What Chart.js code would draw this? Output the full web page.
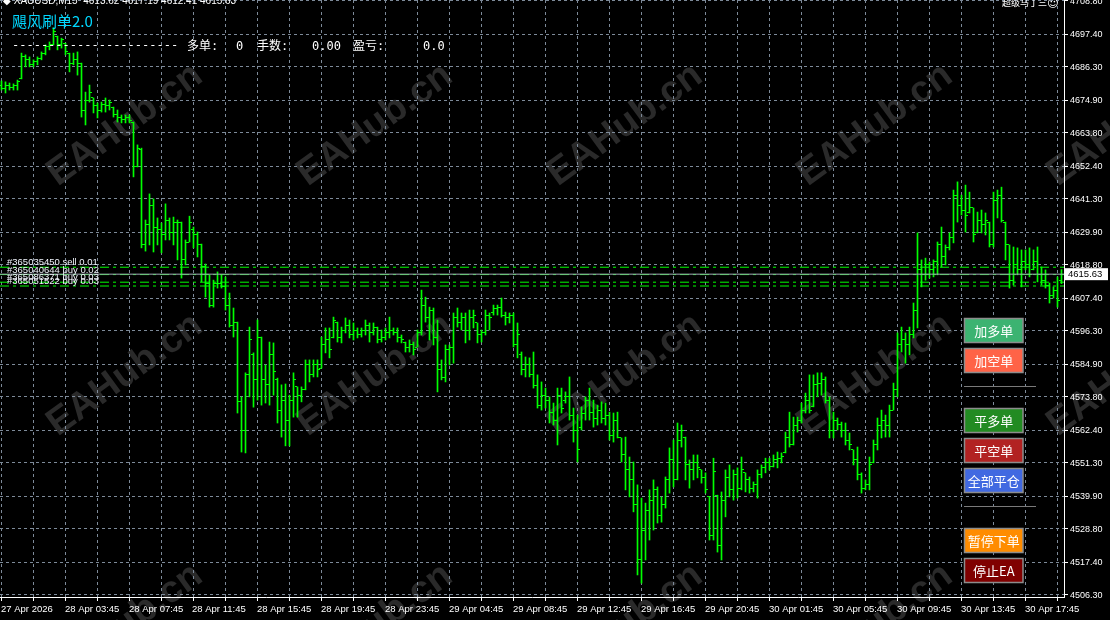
<!DOCTYPE html>
<html>
<head>
<meta charset="utf-8">
<script src="https://cdn.jsdelivr.net/npm/chart.js@4.4.1/dist/chart.umd.min.js"></script>
<style>
  html, body { margin: 0; padding: 0; background: #000; }
  #wrap { width: 1110px; height: 620px; }
</style>
</head>
<body>
<div id="wrap"><canvas id="chart" width="1110" height="620"></canvas></div>
<script>
// XAUUSD M15, one bar every 15 minutes
const timeLabels = ["27 Apr 2026", "28 Apr 03:45", "28 Apr 07:45", "28 Apr 11:45", "28 Apr 15:45",
  "28 Apr 19:45", "28 Apr 23:45", "29 Apr 04:45", "29 Apr 08:45", "29 Apr 12:45", "29 Apr 16:45",
  "29 Apr 20:45", "30 Apr 01:45", "30 Apr 05:45", "30 Apr 09:45", "30 Apr 13:45", "30 Apr 17:45"];

const priceTicks = [4708.80, 4697.40, 4686.30, 4674.90, 4663.80, 4652.40, 4641.30, 4629.90, 4618.80,
  4607.40, 4596.30, 4584.90, 4573.80, 4562.40, 4551.30, 4539.90, 4528.80, 4517.40, 4506.30];

const barOpen = [
  4680.1, 4679.1, 4679.8, 4679.4, 4679.8, 4682.5, 4689.7, 4688.7, 4687.0, 4688.0,
  4689.0, 4690.7, 4693.1, 4694.1, 4696.5, 4694.1, 4694.4, 4690.7, 4687.6, 4688.7,
  4687.3, 4671.6, 4675.0, 4675.7, 4673.3, 4671.6, 4673.6, 4673.0, 4672.6, 4670.2,
  4668.9, 4668.2, 4669.2, 4667.5, 4652.2, 4658.0, 4625.6, 4632.4, 4639.2, 4631.7,
  4630.7, 4629.0, 4634.1, 4629.7, 4633.4, 4633.1, 4620.5, 4626.6, 4630.7, 4629.3,
  4625.6, 4618.4, 4612.3, 4604.8, 4612.3, 4612.6, 4611.6, 4605.1, 4598.3, 4599.3,
  4572.1, 4562.5, 4581.3, 4588.1, 4579.6, 4594.2, 4579.6, 4577.9, 4588.1, 4579.6,
  4569.3, 4572.7, 4565.9, 4572.7, 4577.2, 4574.4, 4576.2, 4584.7, 4581.3, 4584.7,
  4583.6, 4591.5, 4593.2, 4594.2, 4599.3, 4593.9, 4596.6, 4598.3, 4594.9, 4596.6,
  4594.9, 4596.3, 4598.3, 4595.6, 4597.3, 4593.2, 4594.2, 4595.9, 4596.6, 4595.9,
  4593.9, 4592.5, 4590.5, 4591.5, 4590.8, 4595.6, 4605.1, 4600.7, 4603.4, 4593.9,
  4583.0, 4580.3, 4589.8, 4590.8, 4600.7, 4599.3, 4600.7, 4596.6, 4600.7, 4599.0,
  4594.9, 4595.6, 4601.7, 4602.4, 4603.8, 4604.4, 4601.7, 4600.7, 4601.4, 4591.5,
  4588.1, 4583.0, 4584.7, 4581.3, 4577.6, 4571.0, 4574.4, 4572.7, 4568.6, 4565.9,
  4574.4, 4572.7, 4574.1, 4567.6, 4562.5, 4563.2, 4568.3, 4572.7, 4568.6, 4566.6,
  4569.3, 4566.6, 4567.6, 4560.8, 4565.9, 4559.8, 4554.0, 4548.9, 4545.5, 4537.0,
  4518.2, 4528.4, 4535.2, 4538.6, 4542.1, 4533.5, 4537.0, 4545.5, 4552.3, 4545.5,
  4559.1, 4560.1, 4550.6, 4548.9, 4551.6, 4548.9, 4546.2, 4539.7, 4526.7, 4540.3,
  4523.3, 4538.6, 4546.2, 4542.1, 4547.2, 4542.7, 4547.9, 4545.5, 4542.7, 4543.8,
  4547.2, 4549.6, 4551.6, 4550.2, 4552.3, 4552.9, 4554.7, 4559.8, 4557.4, 4564.2,
  4565.9, 4569.3, 4572.7, 4570.4, 4577.9, 4578.5, 4579.6, 4572.7, 4562.5, 4565.9,
  4564.5, 4562.5, 4559.1, 4555.7, 4552.3, 4547.2, 4542.7, 4544.1, 4551.3, 4557.4,
  4564.2, 4565.9, 4564.2, 4569.3, 4576.2, 4591.5, 4593.2, 4591.5, 4594.9, 4603.4,
  4617.1, 4615.4, 4618.8, 4617.1, 4619.8, 4625.6, 4621.5, 4624.6, 4628.3, 4642.6,
  4639.2, 4637.5, 4636.5, 4638.2, 4629.7, 4634.1, 4632.4, 4633.4, 4625.6, 4640.9,
  4642.6, 4633.4, 4625.6, 4613.6, 4618.8, 4617.1, 4619.8, 4618.8, 4617.1, 4619.8,
  4615.4, 4613.6, 4611.9, 4608.5, 4610.2, 4613.62];

const barHigh = [
  4681.5, 4681.2, 4680.8, 4680.5, 4681.8, 4691.0, 4690.4, 4689.7, 4688.7, 4689.7,
  4691.4, 4693.8, 4694.8, 4699.6, 4696.8, 4696.1, 4694.4, 4691.0, 4691.0, 4691.4,
  4687.6, 4677.7, 4680.1, 4675.7, 4674.0, 4674.3, 4675.7, 4675.0, 4672.6, 4671.6,
  4669.9, 4669.9, 4669.9, 4667.5, 4659.7, 4658.6, 4634.1, 4643.0, 4641.3, 4634.8,
  4633.1, 4639.6, 4634.8, 4635.1, 4634.1, 4633.4, 4627.3, 4635.4, 4631.7, 4630.0,
  4625.9, 4619.1, 4615.4, 4613.6, 4616.4, 4615.4, 4614.7, 4609.2, 4604.1, 4599.3,
  4573.8, 4582.0, 4597.6, 4588.8, 4600.0, 4594.2, 4584.7, 4592.5, 4592.2, 4580.2,
  4577.9, 4578.2, 4574.4, 4582.0, 4577.2, 4577.2, 4586.4, 4586.4, 4586.4, 4586.4,
  4594.2, 4597.3, 4597.3, 4601.0, 4599.3, 4597.6, 4600.7, 4600.0, 4599.0, 4597.3,
  4597.3, 4600.0, 4599.0, 4599.0, 4597.6, 4596.6, 4597.3, 4601.0, 4597.3, 4597.3,
  4594.9, 4592.5, 4593.2, 4592.5, 4596.6, 4610.2, 4607.8, 4604.4, 4604.1, 4600.0,
  4586.4, 4591.5, 4591.5, 4602.4, 4604.1, 4602.4, 4602.4, 4603.4, 4603.4, 4599.0,
  4596.6, 4603.4, 4602.4, 4605.1, 4605.1, 4607.5, 4602.7, 4602.4, 4602.4, 4599.0,
  4589.1, 4587.4, 4587.1, 4589.1, 4581.3, 4578.9, 4576.8, 4573.8, 4571.7, 4576.8,
  4576.8, 4575.5, 4580.6, 4570.0, 4567.6, 4570.4, 4573.8, 4576.8, 4572.7, 4571.0,
  4572.1, 4571.7, 4568.6, 4568.3, 4568.6, 4559.8, 4560.1, 4553.3, 4551.6, 4543.8,
  4539.3, 4537.6, 4542.1, 4545.5, 4543.1, 4539.7, 4546.5, 4556.4, 4559.1, 4564.9,
  4564.2, 4560.1, 4552.3, 4554.0, 4554.0, 4548.9, 4547.9, 4539.7, 4552.9, 4540.3,
  4541.4, 4548.9, 4550.6, 4548.9, 4549.6, 4553.3, 4547.9, 4546.5, 4544.8, 4548.9,
  4550.6, 4552.9, 4552.9, 4554.0, 4555.0, 4554.7, 4561.8, 4568.6, 4566.9, 4566.9,
  4571.7, 4575.1, 4581.3, 4581.3, 4582.0, 4582.0, 4580.6, 4573.8, 4568.6, 4566.6,
  4565.2, 4564.9, 4561.5, 4555.7, 4556.7, 4547.9, 4545.5, 4553.3, 4559.1, 4566.6,
  4569.3, 4567.6, 4571.0, 4578.5, 4595.6, 4597.6, 4595.6, 4597.6, 4605.8, 4629.7,
  4620.5, 4621.1, 4619.8, 4620.5, 4626.6, 4631.7, 4625.6, 4629.7, 4644.3, 4647.1,
  4642.6, 4646.0, 4643.6, 4638.2, 4636.8, 4637.5, 4636.5, 4633.4, 4643.6, 4644.3,
  4645.3, 4633.4, 4625.6, 4624.9, 4624.6, 4623.9, 4623.9, 4624.6, 4623.9, 4624.9,
  4618.1, 4617.1, 4612.6, 4611.3, 4614.7, 4617.19];

const barLow = [
  4678.4, 4677.4, 4678.4, 4678.4, 4678.4, 4682.2, 4686.3, 4686.3, 4686.3, 4687.0,
  4688.7, 4690.4, 4692.1, 4693.8, 4692.1, 4692.7, 4690.4, 4684.6, 4687.0, 4683.5,
  4669.2, 4666.5, 4674.3, 4670.6, 4668.9, 4670.9, 4670.9, 4671.6, 4669.2, 4667.5,
  4667.2, 4667.2, 4667.2, 4648.8, 4652.2, 4624.6, 4623.5, 4625.6, 4623.2, 4625.6,
  4622.9, 4627.3, 4627.3, 4625.6, 4620.5, 4614.3, 4618.8, 4626.6, 4624.6, 4621.5,
  4613.0, 4607.8, 4604.4, 4604.4, 4610.9, 4610.9, 4603.4, 4597.6, 4594.2, 4568.3,
  4555.0, 4554.7, 4573.8, 4570.3, 4572.7, 4571.0, 4571.7, 4571.0, 4574.4, 4564.9,
  4560.1, 4557.1, 4557.1, 4566.9, 4566.9, 4572.1, 4576.2, 4578.9, 4580.6, 4580.6,
  4583.6, 4588.8, 4587.1, 4593.9, 4592.5, 4592.2, 4595.6, 4593.9, 4593.2, 4593.9,
  4594.2, 4594.9, 4592.5, 4594.9, 4592.2, 4592.5, 4593.2, 4593.9, 4594.9, 4592.5,
  4592.2, 4589.1, 4589.1, 4588.1, 4590.8, 4594.9, 4599.3, 4593.2, 4591.5, 4575.5,
  4579.6, 4578.9, 4584.7, 4585.3, 4597.6, 4596.6, 4592.2, 4593.2, 4597.3, 4592.2,
  4592.5, 4594.9, 4596.6, 4601.7, 4601.7, 4601.0, 4598.3, 4599.0, 4590.8, 4587.1,
  4581.3, 4580.6, 4580.6, 4576.8, 4570.0, 4569.3, 4570.0, 4564.9, 4564.2, 4557.4,
  4568.3, 4571.7, 4565.9, 4558.4, 4551.6, 4562.5, 4565.9, 4565.9, 4563.5, 4564.2,
  4564.9, 4564.2, 4559.1, 4558.4, 4559.8, 4551.6, 4542.1, 4539.7, 4534.6, 4513.1,
  4510.3, 4518.2, 4525.0, 4528.4, 4530.8, 4531.1, 4535.9, 4541.0, 4543.1, 4545.5,
  4556.7, 4545.5, 4542.7, 4545.5, 4546.2, 4544.4, 4541.0, 4525.0, 4525.0, 4520.9,
  4518.2, 4532.9, 4539.7, 4538.6, 4539.3, 4542.1, 4541.4, 4541.0, 4541.4, 4539.3,
  4546.2, 4547.9, 4548.9, 4549.9, 4549.6, 4551.3, 4554.7, 4556.7, 4557.4, 4561.8,
  4564.9, 4568.3, 4568.3, 4570.4, 4573.8, 4574.4, 4571.7, 4559.8, 4559.8, 4562.5,
  4560.1, 4557.4, 4555.7, 4550.6, 4545.5, 4541.0, 4542.1, 4542.1, 4551.3, 4555.7,
  4559.8, 4560.1, 4560.1, 4569.3, 4573.8, 4589.1, 4585.3, 4588.1, 4593.9, 4597.3,
  4611.3, 4613.6, 4614.3, 4614.7, 4615.4, 4618.1, 4618.8, 4623.9, 4626.3, 4633.4,
  4635.8, 4630.0, 4636.5, 4626.6, 4629.7, 4629.7, 4629.0, 4624.9, 4624.9, 4634.8,
  4633.4, 4620.5, 4610.9, 4611.9, 4615.4, 4611.3, 4617.1, 4614.7, 4617.1, 4613.0,
  4611.9, 4610.9, 4605.8, 4607.5, 4604.4, 4612.41];

const barClose = [
  4679.1, 4679.8, 4679.4, 4679.8, 4681.2, 4689.7, 4688.7, 4687.0, 4688.0, 4689.0,
  4690.7, 4693.1, 4694.1, 4698.2, 4694.1, 4695.5, 4691.4, 4687.6, 4688.7, 4687.6,
  4671.6, 4675.0, 4677.4, 4673.3, 4671.6, 4673.6, 4673.0, 4674.0, 4670.2, 4668.9,
  4668.2, 4669.2, 4667.9, 4652.2, 4658.6, 4625.6, 4632.4, 4639.2, 4631.7, 4630.7,
  4629.0, 4634.1, 4629.7, 4633.4, 4633.1, 4620.5, 4626.3, 4633.4, 4629.3, 4625.6,
  4618.4, 4612.3, 4604.8, 4612.3, 4612.6, 4611.6, 4605.1, 4598.3, 4599.3, 4572.1,
  4562.5, 4581.3, 4593.2, 4579.6, 4594.2, 4579.6, 4577.9, 4588.1, 4582.3, 4569.3,
  4572.7, 4565.9, 4572.7, 4579.6, 4574.4, 4576.2, 4584.7, 4581.3, 4584.7, 4583.0,
  4591.5, 4593.2, 4589.8, 4600.0, 4593.9, 4596.6, 4598.3, 4594.9, 4596.6, 4594.9,
  4596.3, 4598.3, 4595.6, 4597.3, 4593.2, 4594.2, 4595.9, 4596.6, 4595.9, 4593.9,
  4593.2, 4590.5, 4591.5, 4589.8, 4595.6, 4605.1, 4600.7, 4603.4, 4593.9, 4583.0,
  4580.3, 4589.8, 4590.8, 4600.7, 4599.3, 4600.7, 4596.6, 4600.7, 4601.7, 4594.9,
  4595.6, 4601.7, 4600.7, 4603.8, 4604.4, 4601.7, 4600.7, 4601.4, 4591.5, 4594.9,
  4583.0, 4584.7, 4581.3, 4577.6, 4571.0, 4574.4, 4572.7, 4568.6, 4565.9, 4574.4,
  4570.0, 4574.1, 4567.6, 4562.5, 4555.7, 4568.3, 4572.7, 4568.6, 4566.6, 4569.3,
  4566.6, 4567.6, 4560.8, 4565.9, 4560.1, 4554.0, 4548.9, 4545.5, 4537.0, 4518.2,
  4528.4, 4535.2, 4538.6, 4542.1, 4533.5, 4537.0, 4545.5, 4552.3, 4545.5, 4559.1,
  4562.5, 4550.6, 4548.9, 4551.6, 4549.6, 4546.2, 4542.1, 4526.7, 4548.2, 4523.3,
  4538.6, 4546.2, 4542.1, 4547.2, 4542.7, 4548.9, 4545.5, 4542.7, 4543.8, 4547.2,
  4549.6, 4551.6, 4550.2, 4552.3, 4552.9, 4553.6, 4559.8, 4557.4, 4564.2, 4565.9,
  4569.3, 4572.7, 4569.3, 4577.9, 4578.5, 4579.6, 4572.7, 4562.5, 4565.9, 4564.5,
  4562.5, 4559.1, 4557.4, 4552.3, 4547.2, 4542.7, 4544.1, 4550.6, 4557.4, 4564.2,
  4565.9, 4564.2, 4569.3, 4576.2, 4591.5, 4593.2, 4591.5, 4594.9, 4603.4, 4617.1,
  4615.4, 4618.8, 4617.1, 4619.8, 4625.6, 4621.5, 4624.6, 4628.3, 4642.6, 4639.2,
  4637.5, 4635.8, 4638.2, 4629.0, 4634.1, 4632.4, 4634.1, 4625.6, 4640.9, 4642.6,
  4634.1, 4625.6, 4613.6, 4618.8, 4617.1, 4619.8, 4618.8, 4615.4, 4619.8, 4615.4,
  4613.6, 4611.9, 4608.5, 4610.2, 4606.8, 4615.63];

const bidPrice = 4615.63;
const orderPrices = [4618.0, 4615.5, 4612.9, 4611.6];
const orderLabels = ["#365035450 sell 0.01", "#365040644 buy 0.02", "#365086371 buy 0.03", "#365051522 buy 0.03"];

const buttonLabels = ["加多单", "加空单", "平多单", "平空单", "全部平仓", "暂停下单", "停止EA"];
const buttonColors = ["#3cb371", "#ff6347", "#228b22", "#b22222", "#4169e1", "#ff8c00", "#800000"];
const buttonTops = [318.5, 348.5, 408.5, 438.5, 468.5, 528.5, 558.5];

const GREEN = "#00ff00";
const GRID = "#7d8a99";
const X_MIN = -0.375;
const X_MAX = 265.625;

function tickImage(from) {
  const c = document.createElement("canvas");
  c.width = 7;
  c.height = 1;
  const g = c.getContext("2d");
  g.fillStyle = GREEN;
  g.fillRect(from, 0, 2, 1);
  return c;
}

const backdrop = {
  id: "backdrop",
  beforeDraw(chart) {
    const { ctx, width, height } = chart;
    ctx.save();
    ctx.fillStyle = "#000";
    ctx.fillRect(0, 0, width, height);
    ctx.font = 'bold 38px "Liberation Sans"';
    ctx.fillStyle = "#2a2a2a";
    ctx.textAlign = "center";
    ctx.textBaseline = "middle";
    for (const cx of [125, 375, 625, 875, 1125]) {
      for (const cy of [125, 375, 625]) {
        ctx.save();
        ctx.translate(cx, cy);
        ctx.rotate(-36 * Math.PI / 180);
        ctx.fillText("EAHub.cn", 0, 0);
        ctx.restore();
      }
    }
    ctx.restore();
  }
};

// axis labels
const axisText = {
  id: "axisText",
  afterDraw(chart) {
    const { ctx } = chart;
    const xs = chart.scales.x;
    const ys = chart.scales.y;
    ctx.save();
    ctx.fillStyle = "#fff";
    ctx.font = '9px "Liberation Sans"';
    ctx.textAlign = "left";
    ctx.textBaseline = "middle";
    priceTicks.forEach((v) => {
      ctx.fillText(v.toFixed(2), ys.left + 6, ys.getPixelForValue(v) + 0.5);
    });
    ctx.font = '9.5px "Liberation Sans"';
    ctx.textBaseline = "alphabetic";
    timeLabels.forEach((t, i) => {
      ctx.fillText(t, Math.round(xs.getPixelForValue(i * 16)) - 1, 612);
    });
    ctx.restore();
  }
};

const overlay = {
  id: "overlay",
  afterDraw(chart) {
    const { ctx } = chart;
    const yScale = chart.scales.y;
    ctx.save();

    // order labels
    ctx.font = '9.5px "Liberation Sans"';
    ctx.fillStyle = "#eef2fa";
    ctx.textBaseline = "alphabetic";
    orderPrices.forEach((p, i) => {
      ctx.fillText(orderLabels[i], 7, yScale.getPixelForValue(p) - 2);
    });

    // header line
    ctx.font = '10px "Liberation Sans"';
    ctx.fillStyle = "#fff";
    ctx.fillText("◆ XAUUSD,M15  4613.62 4617.19 4612.41 4615.63", 3, 4);
    ctx.font = '9px "Noto Sans CJK SC"';
    ctx.fillText("超级马丁三", 1002, 6);
    ctx.font = '11px "DejaVu Sans"';
    ctx.fillText("☺", 1047, 7);

    // EA panel text
    ctx.font = '15px "Noto Sans CJK SC"';
    ctx.fillStyle = "#00d8ff";
    ctx.fillText("飓风刷单2.0", 12, 27);
    ctx.fillStyle = "#fff";
    ctx.font = '12px "DejaVu Sans Mono"';
    ctx.fillText("-----------------------", 12, 49);
    ctx.font = '12px "DejaVu Sans Mono", "Noto Sans CJK SC"';
    ctx.fillText("多单:", 187, 50);
    ctx.fillText("0", 236, 50);
    ctx.fillText("手数:", 257, 50);
    ctx.fillText("0.00", 312, 50);
    ctx.fillText("盈亏:", 353, 50);
    ctx.fillText("0.0", 423, 50);

    // buttons
    ctx.textAlign = "center";
    ctx.textBaseline = "middle";
    ctx.font = '13px "Noto Sans CJK SC"';
    buttonLabels.forEach((label, i) => {
      const top = buttonTops[i];
      ctx.fillStyle = buttonColors[i];
      ctx.fillRect(964.5, top, 58.5, 24);
      ctx.strokeStyle = "#8c8c8c";
      ctx.lineWidth = 1.5;
      ctx.strokeRect(964.5, top, 58.5, 24);
      ctx.fillStyle = "#fff";
      ctx.fillText(label, 993.75, top + 12.5);
    });
    ctx.strokeStyle = "#7a7a7a";
    ctx.lineWidth = 1;
    for (const sy of [386.5, 506.5]) {
      ctx.beginPath();
      ctx.moveTo(964, sy);
      ctx.lineTo(1036, sy);
      ctx.stroke();
    }

    // bid price label on the axis
    const by = yScale.getPixelForValue(bidPrice);
    ctx.fillStyle = "#fff";
    ctx.fillRect(1065, by - 6, 43, 12);
    ctx.fillStyle = "#000";
    ctx.textAlign = "left";
    ctx.font = '9.5px "Liberation Sans"';
    ctx.fillText(bidPrice.toFixed(2), 1068, by + 0.5);

    ctx.restore();
  }
};

const orderDatasets = orderPrices.map((p) => ({
  type: "line",
  data: [{ x: X_MIN, y: p }, { x: X_MAX, y: p }],
  borderColor: GREEN,
  borderWidth: 1,
  borderDash: [9, 4, 3, 4],
  pointRadius: 0,
  order: 1
}));

new Chart(document.getElementById("chart"), {
  type: "line",
  data: {
    datasets: [
      {
        type: "line",
        data: [{ x: X_MIN, y: bidPrice }, { x: X_MAX, y: bidPrice }],
        borderColor: "#a3adb9",
        borderWidth: 1,
        pointRadius: 0,
        order: 0
      },
      ...orderDatasets,
      {
        type: "line",
        data: barOpen.map((o, i) => ({ x: i, y: o })),
        showLine: false,
        pointStyle: tickImage(1),
        pointRadius: 3,
        pointHoverRadius: 3,
        order: 2
      },
      {
        type: "line",
        data: barClose.map((c, i) => ({ x: i, y: c })),
        showLine: false,
        pointStyle: tickImage(4),
        pointRadius: 3,
        pointHoverRadius: 3,
        order: 2
      },
      {
        type: "bar",
        data: barLow.map((l, i) => ({ x: i, y: [l, barHigh[i]] })),
        backgroundColor: GREEN,
        borderWidth: 0,
        barThickness: 1,
        order: 3
      }
    ]
  },
  options: {
    responsive: false,
    devicePixelRatio: 1,
    animation: false,
    events: [],
    layout: { padding: 0, autoPadding: false },
    plugins: { legend: { display: false }, tooltip: { enabled: false } },
    scales: {
      x: {
        type: "linear",
        min: X_MIN,
        max: X_MAX,
        offset: false,
        afterBuildTicks: (scale) => {
          const ticks = [];
          timeLabels.forEach((_, i) => {
            ticks.push({ value: i * 16 });
            if (i * 16 + 8 <= X_MAX) ticks.push({ value: i * 16 + 8 });
          });
          scale.ticks = ticks;
        },
        afterFit: (scale) => {
          scale.height = 23;
        },
        ticks: { display: false },
        grid: { color: GRID, tickColor: "#fff", tickLength: 4, offset: false },
        border: { color: "#fff", dash: [3, 3] }
      },
      y: {
        position: "right",
        min: 4505.58,
        max: 4709.1,
        afterBuildTicks: (scale) => {
          scale.ticks = priceTicks.map((v) => ({ value: v }));
        },
        afterFit: (scale) => {
          scale.width = 46;
        },
        ticks: { display: false },
        grid: { color: GRID, tickColor: "#fff", tickLength: 4 },
        border: { color: "#fff", dash: [3, 3] }
      }
    }
  },
  plugins: [backdrop, axisText, overlay]
});
</script>
</body>
</html>
